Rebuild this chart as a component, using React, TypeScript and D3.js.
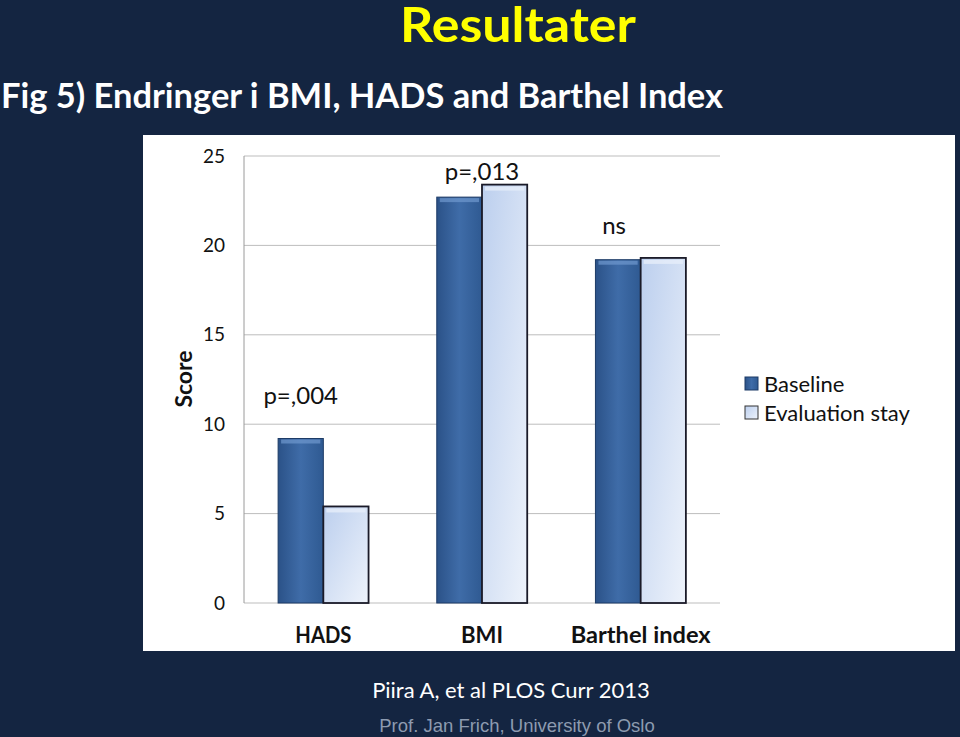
import React from "react";
import * as d3 from "d3";

const categories = ["HADS", "BMI", "Barthel index"];
const seriesNames = ["Baseline", "Evaluation stay"];
const baseline = [9.2, 22.7, 19.2];
const evaluation = [5.4, 23.4, 19.3];
const yTicks = [0, 5, 10, 15, 20, 25];
const annotations = ["p=,004", "p=,013", "ns"];
const annotationValues = [11.6, 24.15, 21.1];

const W = 960, H = 737;
const plot = { left: 244, right: 720, top: 156, bottom: 603 };

export default function App() {
  const x = d3.scaleBand<string>().domain(categories).range([plot.left, plot.right]).paddingInner(0.43).paddingOuter(0.215);
  const x1 = d3.scaleBand<string>().domain(seriesNames).range([0, x.bandwidth()]);
  const y = d3.scaleLinear().domain([0, 25]).range([plot.bottom, plot.top]);
  const font = "Lato, 'Open Sans', sans-serif";
  const annX = [
    x(categories[0])! + x1.bandwidth() / 2,
    x(categories[1])! + x.bandwidth() / 2,
    x(categories[2])! + x1.bandwidth() / 2 - 4,
  ];
  return (
    <svg width={W} height={H} style={{ position: "absolute", left: 0, top: 0, display: "block" }} fontFamily={font}>
      <defs>
        <linearGradient id="gBase" x1="0" x2="1" y1="0" y2="0">
          <stop offset="0" stopColor="#2b5288" />
          <stop offset="0.5" stopColor="#3f6ca8" />
          <stop offset="1" stopColor="#2f5a92" />
        </linearGradient>
        <linearGradient id="gEval" x1="0" x2="1" y1="0" y2="1">
          <stop offset="0" stopColor="#bccfee" />
          <stop offset="1" stopColor="#eef3fb" />
        </linearGradient>
      </defs>
      <rect width={W} height={H} fill="#142541" />
      <text x={518} y={42} textAnchor="middle" fill="#ffff00" fontWeight="bold" fontSize={47} textLength={236} lengthAdjust="spacingAndGlyphs">Resultater</text>
      <text x={1} y={108} fill="#ffffff" fontWeight="bold" fontSize={35} textLength={722} lengthAdjust="spacingAndGlyphs">Fig 5) Endringer i BMI, HADS and Barthel Index</text>
      <rect x={143} y={135} width={812} height={516} fill="#ffffff" />
      {yTicks.map((t) => (
        <g key={t}>
          <line x1={plot.left} x2={plot.right} y1={y(t)} y2={y(t)} stroke="#bdbdbd" strokeWidth={1} />
          <text x={225} y={y(t)} dy="0.35em" textAnchor="end" fontSize={19} fill="#111">{t}</text>
        </g>
      ))}
      <line x1={plot.left} x2={plot.left} y1={plot.top} y2={plot.bottom} stroke="#9a9a9a" />
      <text transform={`translate(192,${379}) rotate(-90)`} textAnchor="middle" fontSize={23} fontWeight="bold" fill="#111">Score</text>
      {categories.map((c, i) => {
        const gx = x(c)!;
        const bx = gx + x1(seriesNames[0])!;
        const ex = gx + x1(seriesNames[1])!;
        const bw = x1.bandwidth();
        return (
          <g key={c}>
            <rect x={bx} y={y(baseline[i])} width={bw} height={y(0) - y(baseline[i])} fill="url(#gBase)" stroke="#1d3b66" strokeWidth={1} />
            <rect x={bx + 3} y={y(baseline[i]) + 1} width={bw - 6} height={4} fill="#6f98cf" opacity={0.7} />
            <rect x={ex} y={y(evaluation[i])} width={bw} height={y(0) - y(evaluation[i])} fill="url(#gEval)" stroke="#1a1a28" strokeWidth={1.8} />
            <rect x={ex + 3} y={y(evaluation[i]) + 2} width={bw - 6} height={4} fill="#e6eefa" opacity={0.8} />
            <text x={gx + x.bandwidth() / 2} y={635} dy="0.35em" textAnchor="middle" fontSize={22} fontWeight="bold" fill="#111" textLength={c.length > 5 ? 140 : c.length * 14} lengthAdjust="spacingAndGlyphs">{c}</text>
            <text x={annX[i]} y={y(annotationValues[i])} dy="0.35em" textAnchor="middle" fontSize={24} fill="#111">{annotations[i]}</text>
          </g>
        );
      })}
      {seriesNames.map((s, i) => (
        <g key={s} transform={`translate(745,${377 + i * 29})`}>
          <rect x={0} y={0} width={13} height={13} fill={i === 0 ? "url(#gBase)" : "url(#gEval)"} stroke={i === 0 ? "#1d3b66" : "#333"} />
          <text x={19} y={7} dy="0.35em" fontSize={22} fill="#111">{s}</text>
        </g>
      ))}
      <text x={511} y={690} dy="0.35em" textAnchor="middle" fontSize={22} fill="#ffffff">Piira A, et al PLOS Curr 2013</text>
      <text x={517} y={726} dy="0.35em" textAnchor="middle" fontSize={18.5} fill="#8d9bb0" fontFamily="'Liberation Sans', Arial, sans-serif">Prof. Jan Frich, University of Oslo</text>
    </svg>
  );
}
